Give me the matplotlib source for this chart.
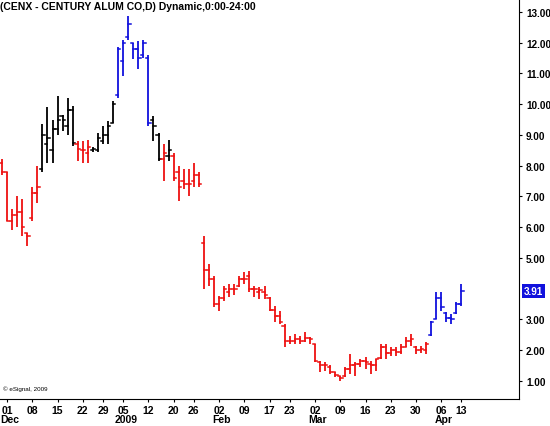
import pandas as pd
import matplotlib.pyplot as plt

holidays = ['2008-12-25', '2009-01-01', '2009-01-19', '2009-02-16', '2009-04-10']
dates = [d for d in pd.bdate_range('2008-11-28', '2009-04-13')
         if d.strftime('%Y-%m-%d') not in holidays]

highs = [8.2, 7.8, 6.6, 7.0, 6.9, 5.8, 7.3, 8.0,
         9.36, 9.9, 9.5, 10.27, 9.65, 10.2, 9.95,
         8.8, 8.8, 8.85,
         8.6, 9.05, 9.3, 9.45, 10.1,
         11.85, 12.1, 12.87, 12.0, 12.05, 12.1, 11.6,
         9.6, 9.05, 8.7, 8.85,
         8.4, 8.0, 7.9, 7.9, 8.1, 7.8, 5.72, 4.8, 4.4,
         3.77, 4.1, 4.15, 4.15, 4.4, 4.55, 4.58, 4.1, 4.05, 4.1,
         3.73, 3.43, 3.27, 2.85, 2.47, 2.53, 2.45, 2.6, 2.43,
         2.2, 1.65, 1.62, 1.5, 1.3, 1.16, 1.45, 1.88, 1.62, 1.72,
         1.78, 1.65, 1.72, 2.2, 2.2, 2.1, 2.1, 2.2, 2.43, 2.53,
         2.13, 2.13, 2.27,
         2.95, 3.9, 3.9, 3.24, 3.17, 3.57, 4.15]
lows = [7.7, 6.2, 5.9, 6.0, 5.7, 5.4, 6.2, 6.8,
        7.8, 8.1, 8.1, 9.0, 9.13, 9.0, 8.65,
        8.15, 8.1, 8.1,
        8.45, 8.45, 8.7, 8.7, 9.4,
        10.2, 10.9, 12.1, 11.47, 11.15, 11.5, 9.3,
        8.8, 8.15, 7.5, 8.15,
        7.5, 6.85, 7.25, 7.0, 7.3, 7.3, 3.99, 4.1, 3.4,
        3.27, 3.6, 3.73, 3.8, 4.05, 4.15, 3.9, 3.73, 3.67, 3.67,
        3.27, 2.9, 2.85, 2.1, 2.2, 2.2, 2.2, 2.27, 2.2,
        1.6, 1.3, 1.33, 1.23, 1.13, 1.0, 1.13, 1.23, 1.16, 1.45,
        1.4, 1.23, 1.33, 1.72, 1.72, 1.8, 1.8, 1.87, 2.1, 2.13,
        1.87, 1.9, 1.87,
        2.47, 3.0, 3.27, 2.9, 2.85, 3.17, 3.43]
opens = [8.1, 7.8, 6.2, 6.4, 6.5, 5.8, 6.3, 7.1,
         7.9, 8.7, 8.5, 9.2, 9.6, 9.3, 9.8,
         8.7, 8.5, 8.4,
         8.5, 8.5, 8.8, 9.0, 9.4,
         10.3, 11.4, 12.2, 12.0, 11.8, 11.6, 11.5,
         9.5, 9.0, 8.2, 8.3,
         8.3, 7.8, 7.5, 7.4, 7.5, 7.7, 5.5, 4.6, 4.3,
         3.5, 3.7, 3.9, 4.0, 4.1, 4.3, 4.4, 4.0, 3.9, 3.9,
         3.7, 3.3, 3.1, 2.8, 2.3, 2.3, 2.35, 2.3, 2.4,
         2.2, 1.6, 1.5, 1.45, 1.28, 1.15, 1.15, 1.4, 1.5, 1.55,
         1.65, 1.55, 1.5, 1.75, 2.1, 1.9, 2.0, 1.95, 2.1, 2.3,
         2.1, 2.0, 2.0,
         2.5, 3.0, 3.7, 3.2, 3.05, 3.2, 3.5]
closes = [7.8, 6.2, 6.4, 6.5, 6.0, 5.7, 7.1, 7.3,
          9.0, 8.9, 9.2, 9.5, 9.5, 9.8, 8.75,
          8.55, 8.5, 8.6,
          8.55, 8.9, 9.0, 9.3, 10.0,
          11.8, 12.0, 12.6, 11.8, 11.5, 12.0, 9.4,
          9.3, 8.2, 8.4, 8.5,
          7.6, 7.3, 7.4, 7.4, 7.7, 7.4, 4.6, 4.3, 3.5,
          3.7, 4.0, 4.0, 4.0, 4.3, 4.3, 4.0, 4.0, 3.95, 3.8,
          3.3, 3.1, 2.9, 2.3, 2.3, 2.35, 2.3, 2.4, 2.35,
          1.65, 1.5, 1.5, 1.3, 1.2, 1.1, 1.4, 1.5, 1.55, 1.65,
          1.6, 1.5, 1.7, 2.1, 1.9, 2.0, 1.95, 2.1, 2.3, 2.35,
          2.0, 2.05, 2.2,
          2.9, 3.7, 3.4, 3.05, 3.0, 3.5, 3.91]
trend = (['r'] * 8 + ['k'] * 7 + ['r'] * 3 + ['k'] * 5 + ['b'] * 7
         + ['k'] * 2 + ['r'] + ['k'] + ['r'] * 51 + ['b'] * 7)
colors = {'r': '#ee1111', 'k': 'black', 'b': '#1111dd'}

price_ticks = [1, 2, 3, 5, 6, 7, 8, 9, 10, 11, 12, 13]
week_labels = ['2008-12-01', '2008-12-08', '2008-12-15', '2008-12-22', '2008-12-29',
               '2009-01-05', '2009-01-12', '2009-01-20', '2009-01-26', '2009-02-02',
               '2009-02-09', '2009-02-17', '2009-02-23', '2009-03-02', '2009-03-09',
               '2009-03-16', '2009-03-23', '2009-03-30', '2009-04-06', '2009-04-13']
month_labels = {'2008-12-01': 'Dec', '2009-01-05': '2009', '2009-02-02': 'Feb',
                '2009-03-02': 'Mar', '2009-04-06': 'Apr'}

idx = {d.strftime('%Y-%m-%d'): i for i, d in enumerate(dates)}

plt.rcParams['font.family'] = ['Liberation Sans', 'DejaVu Sans']
fig = plt.figure(figsize=(5.5, 4.27), dpi=100)
ax = fig.add_axes([0, 27 / 427, 519 / 550, 400 / 427])

for i in range(len(highs)):
    c = colors[trend[i]]
    ax.plot([i, i], [lows[i], highs[i]], color=c, lw=1.3, solid_capstyle='butt')
    ax.plot([i - 0.45, i], [opens[i], opens[i]], color=c, lw=1.1)
    ax.plot([i, i + 0.45], [closes[i], closes[i]], color=c, lw=1.1)

ax.set_xlim(-0.4, 102.4)
ax.set_ylim(0.41, 13.42)
for s in ['left', 'top']:
    ax.spines[s].set_visible(False)
ax.yaxis.tick_right()
ax.set_yticks(price_ticks)
ax.set_yticklabels([f'{v:.2f}' for v in price_ticks], fontsize=7.2, fontweight='bold')
ax.tick_params(axis='y', length=2.5, pad=2.5)
ax.set_xticks([idx[d] for d in week_labels])
ax.set_xticklabels([d[-2:] for d in week_labels], fontsize=7.5, fontweight='bold')
ax.tick_params(axis='x', length=2, pad=2)
for d, lab in month_labels.items():
    ax.text(idx[d] + 0.5, -0.037, lab, transform=ax.get_xaxis_transform(),
            ha='center', va='top', fontsize=7.5, fontweight='bold')

ax.text(0.0, 0.995, '(CENX - CENTURY ALUM CO,D) Dynamic,0:00-24:00',
        transform=ax.transAxes, ha='left', va='top', fontsize=7.5, fontweight='bold')
ax.text(0.005, 0.02, '© eSignal, 2009', transform=ax.transAxes,
        ha='left', va='bottom', fontsize=4.5)
ax.text(1.01, closes[-1], f'{closes[-1]:.2f}', transform=ax.get_yaxis_transform(),
        ha='left', va='center', fontsize=7.2, fontweight='bold', color='white',
        bbox=dict(boxstyle='square,pad=0.2', fc='#1111dd', ec='none'))

fig.savefig('out.png', dpi=100)
